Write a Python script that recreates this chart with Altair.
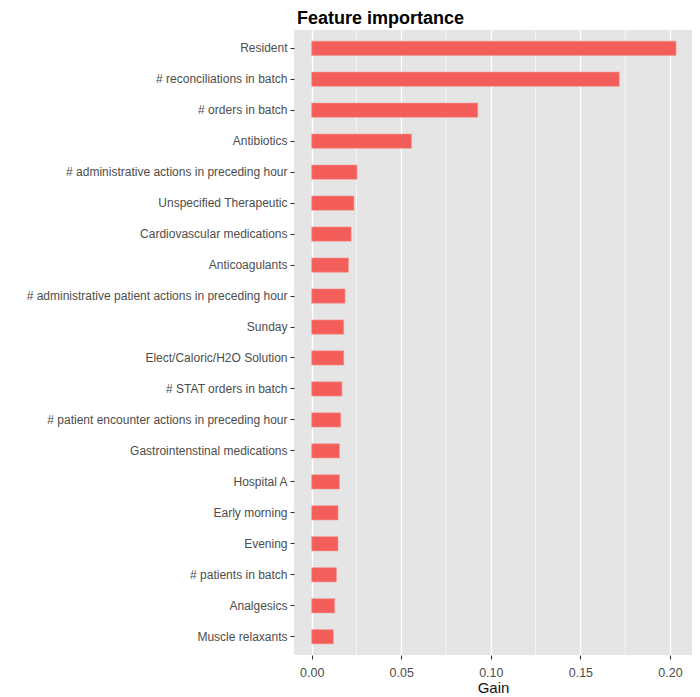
import altair as alt
import pandas as pd

features = [
    "Resident",
    "# reconciliations in batch",
    "# orders in batch",
    "Antibiotics",
    "# administrative actions in preceding hour",
    "Unspecified Therapeutic",
    "Cardiovascular medications",
    "Anticoagulants",
    "# administrative patient actions in preceding hour",
    "Sunday",
    "Elect/Caloric/H2O Solution",
    "# STAT orders in batch",
    "# patient encounter actions in preceding hour",
    "Gastrointenstinal medications",
    "Hospital A",
    "Early morning",
    "Evening",
    "# patients in batch",
    "Analgesics",
    "Muscle relaxants",
]
gains = [
    0.2034, 0.1717, 0.0927, 0.0557, 0.0253, 0.0236, 0.0220, 0.0205, 0.0186, 0.0179,
    0.0179, 0.0169, 0.0162, 0.0155, 0.0155, 0.0147, 0.0147, 0.0138, 0.0128, 0.0121,
]
major_ticks = [0.0, 0.05, 0.10, 0.15, 0.20]
minor_ticks = [0.025, 0.075, 0.125, 0.175]

df = pd.DataFrame({"feature": features, "gain": gains})
minor_df = pd.DataFrame({"v": minor_ticks})

xscale = alt.Scale(domain=[-0.00988, 0.2123], nice=False, zero=False)
yscale = alt.Scale(paddingInner=0.54, paddingOuter=0.36)

x_axis = alt.Axis(
    values=major_ticks,
    format=".2f",
    grid=True,
    gridColor="white",
    gridWidth=1.3,
    domain=False,
    tickColor="#333333",
    tickSize=4,
    tickWidth=1.1,
    labelColor="#4D4D4D",
    labelFontSize=12.5,
    labelPadding=7,
    labelFont="Liberation Sans",
    titleFont="Liberation Sans",
    titleFontSize=15,
    titleFontWeight="normal",
    titleColor="#111111",
    titleBaseline="alphabetic",
    titleY=37,
)

minor_grid = alt.Chart(minor_df).mark_rule(color="white", strokeWidth=0.6).encode(
    x=alt.X("v:Q", scale=xscale, title="Gain", axis=x_axis)
)

bars = alt.Chart(df).mark_bar(
    color="#F35E5B", stroke="#F7968F", strokeWidth=0.6
).encode(
    x=alt.X("gain:Q", scale=xscale, title="Gain", axis=x_axis),
    x2=alt.datum(0),
    y=alt.Y(
        "feature:N",
        sort=features,
        scale=yscale,
        title=None,
        axis=alt.Axis(
            grid=False,
            domain=False,
            tickColor="#333333",
            tickSize=4,
            tickWidth=1.1,
            labelColor="#4D4D4D",
            labelFontSize=12,
            labelPadding=3,
            labelFont="Liberation Sans",
            labelLimit=400,
        ),
    ),
)

chart = (
    alt.layer(minor_grid, bars)
    .properties(
        width=398,
        height=625,
        background="white",
        title=alt.TitleParams(
            "Feature importance",
            anchor="start",
            frame="group",
            font="Liberation Sans",
            fontSize=18,
            fontWeight="bold",
            color="#000000",
            dx=3,
            offset=2,
        ),
        autosize=alt.AutoSizeParams(type="none"),
        padding={"left": 286, "top": 22, "right": 0, "bottom": 42},
    )
    .configure_view(fill="#E5E5E5", strokeWidth=0)
)

chart.save("out.html", embed_options={"renderer": "svg", "actions": False})
